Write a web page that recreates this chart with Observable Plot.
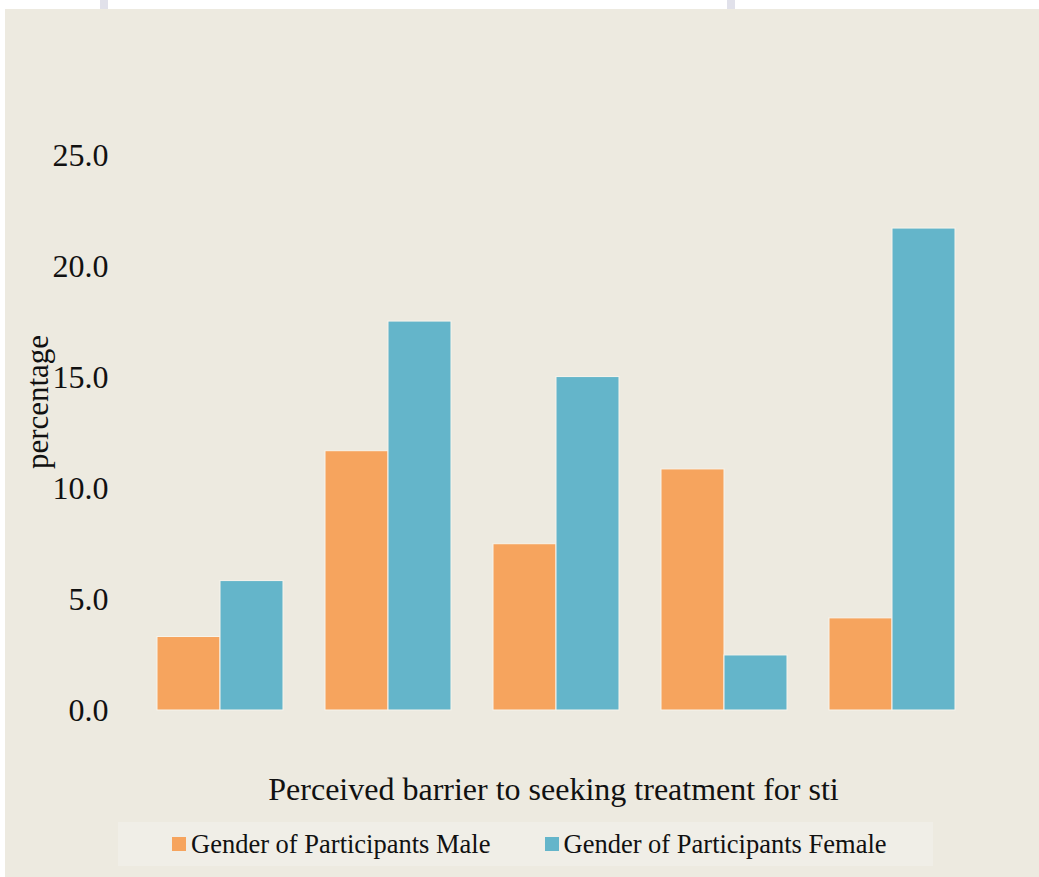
<!DOCTYPE html>
<html>
<head>
<meta charset="utf-8">
<script src="https://cdn.jsdelivr.net/npm/d3@7"></script>
<script src="https://cdn.jsdelivr.net/npm/@observablehq/plot@0.6"></script>
<style>
  html, body { margin: 0; padding: 0; background: #ffffff; }
  body { width: 1039px; height: 877px; position: relative; overflow: hidden; font-family: "Liberation Serif", "Times New Roman", serif; }
  .strip { position: absolute; top: 0; width: 8px; height: 9px; background: #e1e1ea; }
  #panel { position: absolute; left: 5px; top: 9px; right: 0; bottom: 0; background: #edeae0; }
  #chart { position: absolute; left: 0; top: 0; }
  #legend { position: absolute; left: 118px; top: 822px; width: 815px; height: 44px; background: #f0eee7;
            box-sizing: border-box; padding-left: 54px; white-space: nowrap;
            display: flex; align-items: center; justify-content: flex-start; font-size: 26.5px; color: #111; }
  .item { display: flex; align-items: center; margin-right: 54px; flex-shrink: 0; white-space: nowrap; }
  .sw { width: 14px; height: 14px; margin-right: 5px; flex-shrink: 0; }
</style>
</head>
<body>
<div class="strip" style="left:100px"></div>
<div class="strip" style="left:727px"></div>
<div id="panel"></div>
<div id="chart"></div>
<div id="legend"></div>
<script>
// Five barrier categories (unlabelled on the axis), two gender series in percent
const categories = ["B1", "B2", "B3", "B4", "B5"];
const series = ["Gender of Participants Male", "Gender of Participants Female"];
const male = [3.31, 11.68, 7.49, 10.86, 4.15];
const female = [5.83, 17.52, 15.02, 2.48, 21.71];
const yTicks = [0, 5, 10, 15, 20, 25];
const colors = ["#f6a45e", "#64b5ca"];
const xLabel = "Perceived barrier to seeking treatment for sti";
const yLabel = "percentage";

const rows = categories.map((c, i) => ({category: c, male: male[i], female: female[i]}));

const chart = Plot.plot({
  width: 1039,
  height: 812,
  marginLeft: 136,
  marginRight: 63,
  marginTop: 155,
  marginBottom: 102,
  style: {fontFamily: "Liberation Serif, Times New Roman, serif", color: "#111", background: "transparent"},
  x: {domain: categories, paddingInner: 0.25, paddingOuter: 0.125, axis: null},
  y: {domain: [0, 25], axis: null},
  marks: [
    Plot.barY(rows, {x: "category", y: "male", fill: colors[0], stroke: "#f7f4ec", strokeWidth: 1, insetRight: 63}),
    Plot.barY(rows, {x: "category", y: "female", fill: colors[1], stroke: "#f7f4ec", strokeWidth: 1, insetLeft: 63}),
    Plot.axisY({ticks: yTicks, tickFormat: d3.format(".1f"), tickSize: 0, tickPadding: 28, fontSize: 32, label: null}),
    Plot.text([yLabel], {frameAnchor: "left", textAnchor: "middle", lineAnchor: "middle", rotate: -90, dx: -98, dy: -31, fontSize: 31}),
    Plot.text([xLabel], {frameAnchor: "bottom", textAnchor: "middle", lineAnchor: "middle", dx: -3, dy: 79, fontSize: 32})
  ]
});
document.getElementById("chart").appendChild(chart);

// Legend beneath the plot
const legend = document.getElementById("legend");
series.forEach((name, i) => {
  const item = document.createElement("div");
  item.className = "item";
  const sw = document.createElement("span");
  sw.className = "sw";
  sw.style.background = colors[i];
  const label = document.createElement("span");
  label.textContent = name;
  item.appendChild(sw);
  item.appendChild(label);
  legend.appendChild(item);
});
</script>
</body>
</html>
